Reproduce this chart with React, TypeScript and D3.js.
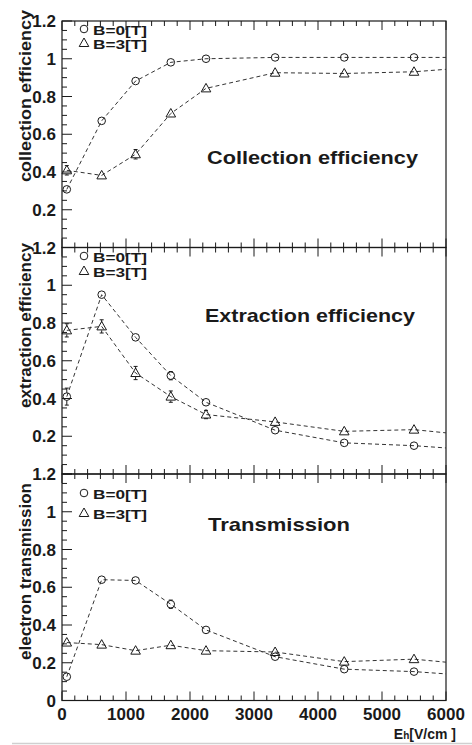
import React, { useEffect, useRef } from 'react';
import * as d3 from 'd3';

// drift field values (V/cm) where the points sit
const fieldValues = [75, 620, 1150, 1700, 2250, 3330, 4410, 5500];

const collB0 = [0.308, 0.671, 0.882, 0.981, 1.0, 1.007, 1.007, 1.007];
const collB3 = [0.409, 0.382, 0.494, 0.71, 0.843, 0.926, 0.922, 0.931];
const extrB0 = [0.41, 0.95, 0.724, 0.521, 0.38, 0.232, 0.165, 0.15];
const extrB3 = [0.761, 0.782, 0.535, 0.41, 0.315, 0.276, 0.226, 0.235];
const tranB0 = [0.126, 0.64, 0.636, 0.51, 0.374, 0.232, 0.166, 0.153];
const tranB3 = [0.307, 0.296, 0.264, 0.293, 0.264, 0.257, 0.206, 0.219];

const collErrB0 = [0.012, 0.01, 0.01, 0.01, 0.008, 0.005, 0.005, 0.005];
const collErrB3 = [0.025, 0.02, 0.025, 0.02, 0.012, 0.01, 0.01, 0.01];
const extrErrB0 = [0.045, 0.012, 0.018, 0.022, 0.018, 0.01, 0.01, 0.01];
const extrErrB3 = [0.035, 0.035, 0.035, 0.03, 0.022, 0.012, 0.012, 0.012];
const tranErrB0 = [0.012, 0.01, 0.01, 0.022, 0.012, 0.01, 0.01, 0.01];
const tranErrB3 = [0.012, 0.01, 0.01, 0.012, 0.01, 0.01, 0.012, 0.01];

// where the dashed curves end at the right frame (x = 6000)
const tailB0 = [1.007, 0.138, 0.141];
const tailB3 = [0.944, 0.218, 0.203];

const panelTitles = ['Collection efficiency', 'Extraction efficiency', 'Transmission'];
const axisTitles = ['collection efficiency', 'extraction efficiency', 'electron transmission'];
const legendLabels = ['B=0[T]', 'B=3[T]'];
const xTicks = [0, 1000, 2000, 3000, 4000, 5000, 6000];
const yTicks = [0, 0.2, 0.4, 0.6, 0.8, 1, 1.2];

const FONT = 'Liberation Sans, Arial, Helvetica, sans-serif';
const INK = '#1a1a1a';

const Chart = () => {
  const svgRef = useRef(null);

  useEffect(() => {
    const width = 472;
    const height = 745;
    const left = 62;
    const right = 446;
    const panelTops = [21, 247.5, 474];
    const panelH = 226.5;

    const svg = d3.select(svgRef.current)
      .attr('width', width)
      .attr('height', height);
    svg.selectAll('*').remove();

    svg.append('rect').attr('width', width).attr('height', height).attr('fill', '#fff');

    const x = d3.scaleLinear().domain([0, 6000]).range([left, right]);

    const series = [
      { b0: collB0, b3: collB3, e0: collErrB0, e3: collErrB3 },
      { b0: extrB0, b3: extrB3, e0: extrErrB0, e3: extrErrB3 },
      { b0: tranB0, b3: tranB3, e0: tranErrB0, e3: tranErrB3 },
    ];

    // measured placements of texts per panel
    const titlePos = [
      { x: 207, y: 164, len: 211 },
      { x: 205, y: 322, len: 210 },
      { x: 208, y: 531, len: 142 },
    ];
    const axisTitleEnd = [10, 243, 483];
    const axisTitleLen = [172, 165, 177];
    const legendY = [[29, 43], [256, 271], [493, 513]];

    const line = d3.line()
      .x(d => x(d[0]))
      .y(d => d[1])
      .curve(d3.curveMonotoneX);

    const triPath = 'M0,-5L4.8,3.5L-4.8,3.5Z';

    series.forEach((s, p) => {
      const top = panelTops[p];
      const y = d3.scaleLinear().domain([0, 1.2]).range([top + panelH, top]);
      const g = svg.append('g');

      // frame
      g.append('rect')
        .attr('x', left).attr('y', top)
        .attr('width', right - left).attr('height', panelH)
        .attr('fill', 'none').attr('stroke', INK).attr('stroke-width', 1.2);

      // y ticks (left only), majors 0.2, minors 0.05
      d3.range(0, 1.2001, 0.05).forEach(v => {
        const major = Math.abs(v / 0.2 - Math.round(v / 0.2)) < 1e-6;
        g.append('line')
          .attr('x1', left).attr('x2', left + (major ? 10 : 5))
          .attr('y1', y(v)).attr('y2', y(v))
          .attr('stroke', INK).attr('stroke-width', 1);
      });
      yTicks.forEach(v => {
        if (v === 0 && p < 2) return;
        g.append('text')
          .attr('x', 56).attr('y', y(v) + 6)
          .attr('text-anchor', 'end')
          .attr('font-family', FONT).attr('font-weight', 'bold')
          .attr('font-size', 17).attr('fill', INK)
          .text(d3.format('~g')(v));
      });

      // x ticks on bottom (up) and top (down)
      d3.range(0, 6001, 200).forEach(v => {
        const major = v % 1000 === 0;
        const len = major ? 9 : 5;
        g.append('line')
          .attr('x1', x(v)).attr('x2', x(v))
          .attr('y1', top + panelH).attr('y2', top + panelH - len)
          .attr('stroke', INK);
        g.append('line')
          .attr('x1', x(v)).attr('x2', x(v))
          .attr('y1', top).attr('y2', top + len)
          .attr('stroke', INK);
      });

      // y axis title
      g.append('text')
        .attr('transform', `translate(31, ${axisTitleEnd[p]}) rotate(-90)`)
        .attr('text-anchor', 'end')
        .attr('font-family', FONT).attr('font-weight', 'bold')
        .attr('font-size', 17).attr('fill', INK)
        .attr('textLength', axisTitleLen[p]).attr('lengthAdjust', 'spacingAndGlyphs')
        .text(axisTitles[p]);

      // panel title
      g.append('text')
        .attr('x', titlePos[p].x).attr('y', titlePos[p].y)
        .attr('font-family', FONT).attr('font-weight', 'bold')
        .attr('font-size', 19).attr('fill', INK)
        .attr('textLength', titlePos[p].len).attr('lengthAdjust', 'spacingAndGlyphs')
        .text(panelTitles[p]);

      // curves: gently smoothed, but mostly straight between points
      const pts0 = fieldValues.map((f, i) => [f, y(s.b0[i])]).concat([[6000, y(tailB0[p])]]);
      const pts3 = fieldValues.map((f, i) => [f, y(s.b3[i])]).concat([[6000, y(tailB3[p])]]);
      [pts0, pts3].forEach(pts => {
        g.append('path')
          .attr('d', d3.line().x(d => x(d[0])).y(d => d[1])(pts))
          .attr('fill', 'none')
          .attr('stroke', '#333')
          .attr('stroke-width', 1)
          .attr('stroke-dasharray', '4,3');
      });

      // error bars, drawn only outside the marker
      const drawErr = (vals, errs, r) => {
        vals.forEach((v, i) => {
          const cx = x(fieldValues[i]);
          const cy = y(v);
          const half = y(v - errs[i]) - cy;
          if (half <= r) return;
          [[cy - r, cy - half], [cy + r, cy + half]].forEach(([a, b]) => {
            g.append('line').attr('x1', cx).attr('x2', cx).attr('y1', a).attr('y2', b)
              .attr('stroke', INK);
            g.append('line').attr('x1', cx - 2).attr('x2', cx + 2).attr('y1', b).attr('y2', b)
              .attr('stroke', INK);
          });
        });
      };
      drawErr(s.b0, s.e0, 3.8);
      drawErr(s.b3, s.e3, 4);

      // markers
      s.b0.forEach((v, i) => {
        g.append('circle')
          .attr('cx', x(fieldValues[i])).attr('cy', y(v)).attr('r', 3.8)
          .attr('fill', 'none').attr('stroke', INK).attr('stroke-width', 1);
      });
      s.b3.forEach((v, i) => {
        g.append('path')
          .attr('d', triPath)
          .attr('transform', `translate(${x(fieldValues[i])}, ${y(v)})`)
          .attr('fill', 'none').attr('stroke', INK).attr('stroke-width', 1);
      });

      // legend
      const [ly0, ly3] = legendY[p];
      g.append('circle').attr('cx', 84).attr('cy', ly0).attr('r', 3.8)
        .attr('fill', 'none').attr('stroke', INK);
      g.append('path').attr('d', triPath).attr('transform', `translate(84, ${ly3})`)
        .attr('fill', 'none').attr('stroke', INK);
      [ly0, ly3].forEach((ly, k) => {
        g.append('text')
          .attr('x', 93).attr('y', ly + 5.5)
          .attr('font-family', FONT).attr('font-weight', 'bold')
          .attr('font-size', 13.5).attr('fill', INK)
          .attr('textLength', 54).attr('lengthAdjust', 'spacingAndGlyphs')
          .text(legendLabels[k]);
      });
    });

    // x tick labels on the bottom panel
    xTicks.forEach(v => {
      svg.append('text')
        .attr('x', x(v)).attr('y', 720)
        .attr('text-anchor', 'middle')
        .attr('font-family', FONT).attr('font-weight', 'bold')
        .attr('font-size', 17).attr('fill', INK)
        .text(v);
    });

    // x axis title with subscript
    const xt = svg.append('text')
      .attr('x', 456).attr('y', 739)
      .attr('text-anchor', 'end')
      .attr('font-family', FONT).attr('font-weight', 'bold')
      .attr('font-size', 14).attr('fill', INK);
    xt.append('tspan').text('E');
    xt.append('tspan').attr('font-size', 10).text('h');
    xt.append('tspan').text('[V/cm ]');

    // faint page rule at the very bottom
    svg.append('line')
      .attr('x1', 12).attr('x2', 472).attr('y1', 743.5).attr('y2', 743.5)
      .attr('stroke', '#d0d0d0').attr('stroke-width', 1.5);
  }, []);

  return <svg ref={svgRef} style={{ position: 'absolute', left: 0, top: 0, display: 'block' }} />;
};

export default function App() {
  return <Chart />;
}
